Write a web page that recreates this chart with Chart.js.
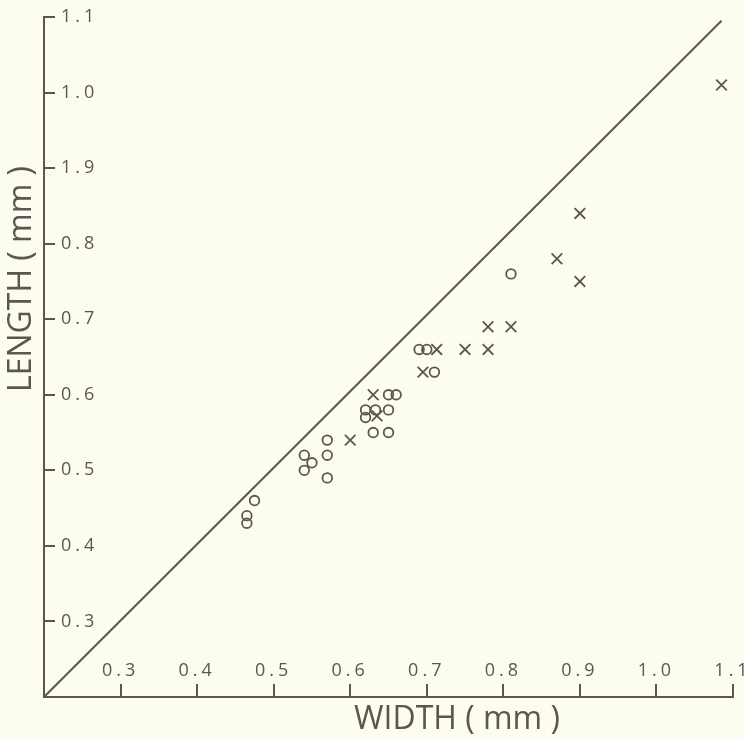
<!DOCTYPE html>
<html>
<head>
<meta charset="utf-8">
<title>Length vs width</title>
<script src="https://cdn.jsdelivr.net/npm/chart.js@4/dist/chart.umd.min.js"></script>
<style>
    html, body { margin: 0; padding: 0; background: #fcfcef; }
    canvas { display: block; }
</style>
</head>
<body>
<canvas id="chart" width="744" height="738"></canvas>
<script>
// open circles
const circleWidths  = [0.465, 0.465, 0.475, 0.54, 0.54, 0.55, 0.57, 0.57, 0.57, 0.62, 0.633, 0.62, 0.63, 0.65, 0.65, 0.65, 0.66, 0.69, 0.70, 0.71, 0.81];
const circleLengths = [0.44, 0.43, 0.46, 0.52, 0.50, 0.51, 0.54, 0.52, 0.49, 0.58, 0.58, 0.57, 0.55, 0.55, 0.58, 0.60, 0.60, 0.66, 0.66, 0.63, 0.76];

// crosses
const crossWidths  = [0.60, 0.63, 0.635, 0.695, 0.713, 0.75, 0.78, 0.78, 0.81, 0.87, 0.90, 0.90, 1.085];
const crossLengths = [0.54, 0.60, 0.572, 0.63, 0.66, 0.66, 0.66, 0.69, 0.69, 0.78, 0.75, 0.84, 1.01];

// length = width reference line
const refLineWidths  = [0.2, 1.085];
const refLineLengths = [0.2, 1.095];

const xTickValues = [0.3, 0.4, 0.5, 0.6, 0.7, 0.8, 0.9, 1.0, 1.1];
const xTickLabels = ['0.3', '0.4', '0.5', '0.6', '0.7', '0.8', '0.9', '1.0', '1.1'];
const yTickValues = [0.3, 0.4, 0.5, 0.6, 0.7, 0.8, 0.9, 1.0, 1.1];
const yTickLabels = ['0.3', '0.4', '0.5', '0.6', '0.7', '0.8', '1.9', '1.0', '1.1'];

const xTitle = 'WIDTH ( mm )';
const yTitle = 'LENGTH ( mm )';

const INK = '#5a5752';
const PAPER = '#fcfcef';

const toPoints = (xs, ys) => xs.map((x, i) => ({ x: x, y: ys[i] }));

// paper colour + spaced-out tick digits
const paperPlugin = {
    id: 'paper',
    beforeDraw(chart) {
        const ctx = chart.ctx;
        ctx.save();
        ctx.fillStyle = PAPER;
        ctx.fillRect(0, 0, chart.width, chart.height);
        ctx.restore();
        ctx.letterSpacing = '4px';
    }
};

// axis titles sit off-centre in the original, so place them by hand
const titlePlugin = {
    id: 'axisTitles',
    afterDraw(chart) {
        const ctx = chart.ctx;
        ctx.save();
        ctx.letterSpacing = '0px';
        ctx.fillStyle = INK;
        ctx.font = '32px "Open Sans"';
        ctx.textAlign = 'center';
        ctx.textBaseline = 'middle';
        ctx.fillText(xTitle, 457, 720);
        ctx.translate(22, 279);
        ctx.rotate(-Math.PI / 2);
        ctx.fillText(yTitle, 0, 0);
        ctx.restore();
    }
};

new Chart(document.getElementById('chart'), {
    data: {
        datasets: [
            {
                type: 'line',
                data: toPoints(refLineWidths, refLineLengths),
                borderColor: INK,
                borderWidth: 2,
                pointRadius: 0,
                fill: false
            },
            {
                type: 'scatter',
                data: toPoints(circleWidths, circleLengths),
                pointStyle: 'circle',
                pointRadius: 4.8,
                borderWidth: 1.8,
                borderColor: INK,
                backgroundColor: 'rgba(0,0,0,0)'
            },
            {
                type: 'scatter',
                data: toPoints(crossWidths, crossLengths),
                pointStyle: 'crossRot',
                pointRadius: 7.5,
                borderWidth: 1.8,
                borderColor: INK,
                backgroundColor: 'rgba(0,0,0,0)'
            }
        ]
    },
    options: {
        responsive: false,
        animation: false,
        devicePixelRatio: 1,
        events: [],
        layout: {
            padding: { top: 17, right: 11, left: 0, bottom: 0 }
        },
        plugins: {
            legend: { display: false },
            tooltip: { enabled: false }
        },
        scales: {
            x: {
                type: 'linear',
                position: 'bottom',
                min: 0.2,
                max: 1.1,
                afterBuildTicks: (scale) => {
                    scale.ticks = xTickValues.map(v => ({ value: v }));
                },
                afterFit: (scale) => {
                    scale.height = 41;
                    // let the last label run to the page edge like the original
                    scale.paddingLeft = 0;
                    scale.paddingRight = 0;
                },
                border: { display: true, color: INK, width: 2 },
                grid: {
                    drawOnChartArea: false,
                    drawTicks: true,
                    tickLength: -13,
                    color: INK,
                    lineWidth: 2
                },
                ticks: {
                    // mirror keeps the labels unclipped above the axis line
                    mirror: true,
                    autoSkip: false,
                    maxRotation: 0,
                    padding: 15,
                    color: INK,
                    font: { family: '"Open Sans"', size: 18 },
                    callback: (value, index) => xTickLabels[index]
                }
            },
            y: {
                type: 'linear',
                position: 'left',
                min: 0.2,
                max: 1.1,
                afterBuildTicks: (scale) => {
                    scale.ticks = yTickValues.map(v => ({ value: v }));
                },
                afterFit: (scale) => {
                    scale.width = 44;
                    scale.paddingTop = 0;
                    scale.paddingBottom = 0;
                },
                border: { display: true, color: INK, width: 2 },
                grid: {
                    drawOnChartArea: false,
                    drawTicks: true,
                    tickLength: -11,
                    color: INK,
                    lineWidth: 2
                },
                ticks: {
                    mirror: true,
                    padding: 17,
                    color: INK,
                    font: { family: '"Open Sans"', size: 18 },
                    callback: (value, index) => yTickLabels[index]
                }
            }
        }
    },
    plugins: [paperPlugin, titlePlugin]
});
</script>
</body>
</html>
